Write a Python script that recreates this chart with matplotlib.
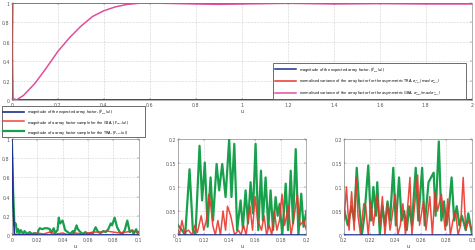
import numpy as np
import matplotlib
matplotlib.use("Agg")
import matplotlib.pyplot as plt
from matplotlib.ticker import FormatStrFormatter

# --- top panel: expected array factor and normalised variances over u in [0, 2]
u_top_blue = [0.0, 0.002, 0.004, 0.01, 2.0]
blue_top = [1.0, 0.5, 0.0, 0.0, 0.0]
u_top_red = [0.0, 0.002, 0.004, 0.01, 2.0]
red_top = [0.0, 0.5, 1.0, 1.0, 1.0]
u_top_mag = [0.0, 0.01, 0.02, 0.05, 0.1, 0.15, 0.2, 0.25, 0.3, 0.35, 0.4, 0.45,
             0.5, 0.55, 0.6, 0.7, 0.8, 0.9, 1.0, 1.2, 1.4, 1.6, 1.8, 2.0]
mag_top = [0.0, 0.01, 0.0, 0.045, 0.17, 0.33, 0.50, 0.64, 0.76, 0.86, 0.92, 0.96,
           0.985, 0.997, 1.0, 0.995, 0.99, 0.986, 0.99, 0.997, 0.99, 0.994, 0.99, 0.99]

# --- bottom left: u in [0, 0.1]
u_l_blue = [0.0, 0.001, 0.002, 0.1]
blue_l = [1.0, 0.3, 0.0, 0.0]
u_l_green = [0.0, 0.001, 0.002, 0.003, 0.004, 0.005, 0.006, 0.007, 0.009, 0.010,
             0.012, 0.014, 0.016, 0.018, 0.020, 0.021, 0.022, 0.024, 0.026, 0.028,
             0.030, 0.031, 0.033, 0.034, 0.036, 0.037, 0.038, 0.040, 0.042, 0.044,
             0.046, 0.048, 0.049, 0.051, 0.052, 0.054, 0.056, 0.058, 0.060, 0.062,
             0.064, 0.066, 0.068, 0.070, 0.072, 0.074, 0.076, 0.078, 0.079, 0.081,
             0.083, 0.085, 0.087, 0.089, 0.091, 0.093, 0.095, 0.096, 0.098, 0.099, 0.1]
green_l = [1.0, 0.45, 0.1, 0.12, 0.03, 0.06, 0.02, 0.05, 0.01, 0.04,
           0.01, 0.03, 0.01, 0.02, 0.0, 0.05, 0.07, 0.06, 0.07, 0.07,
           0.06, 0.02, 0.07, 0.02, 0.05, 0.18, 0.12, 0.15, 0.05, 0.03,
           0.01, 0.04, 0.02, 0.10, 0.06, 0.03, 0.01, 0.03, 0.01, 0.02,
           0.02, 0.08, 0.03, 0.02, 0.04, 0.03, 0.06, 0.12, 0.10, 0.18,
           0.08, 0.03, 0.01, 0.05, 0.15, 0.03, 0.05, 0.01, 0.06, 0.02, 0.03]
u_l_red = [0.0, 0.005, 0.01, 0.015, 0.02, 0.025, 0.03, 0.035, 0.04, 0.045, 0.05,
           0.055, 0.06, 0.065, 0.07, 0.075, 0.08, 0.085, 0.09, 0.095, 0.1]
red_l = [0.0, 0.01, 0.0, 0.01, 0.02, 0.01, 0.03, 0.01, 0.02, 0.0, 0.02,
         0.01, 0.02, 0.03, 0.03, 0.04, 0.03, 0.02, 0.03, 0.04, 0.03]

# --- bottom middle: u in [0.1, 0.2]
u_m_green = [0.100, 0.103, 0.1055, 0.1089, 0.1115, 0.1135, 0.1167, 0.1187, 0.1208, 0.123,
             0.1253, 0.1272, 0.130, 0.132, 0.1344, 0.137, 0.1398, 0.1416, 0.1438, 0.146,
             0.1487, 0.1505, 0.1526, 0.1545, 0.1565, 0.1583, 0.1604, 0.1625, 0.1646, 0.1661,
             0.1682, 0.1703, 0.1721, 0.174, 0.176, 0.1776, 0.1792, 0.1812, 0.1839, 0.1857,
             0.1878, 0.1896, 0.1917, 0.1938, 0.196, 0.1978, 0.2]
green_m = [0.02, 0.01, 0.0, 0.137, 0.01, 0.0, 0.186, 0.072, 0.151, 0.017,
           0.12, 0.03, 0.148, 0.093, 0.148, 0.079, 0.20, 0.079, 0.19, 0.01,
           0.072, 0.014, 0.093, 0.024, 0.11, 0.045, 0.19, 0.01, 0.134, 0.03,
           0.12, 0.014, 0.093, 0.01, 0.079, 0.04, 0.065, 0.0, 0.107, 0.01,
           0.134, 0.024, 0.179, 0.0, 0.086, 0.017, 0.05]
u_m_red = [0.100, 0.101, 0.103, 0.105, 0.108, 0.111, 0.113, 0.115, 0.118, 0.120,
           0.122, 0.124, 0.1255, 0.127, 0.129, 0.131, 0.133, 0.135, 0.137, 0.1385,
           0.141, 0.144, 0.147, 0.149, 0.151, 0.153, 0.156, 0.158, 0.160, 0.162,
           0.165, 0.167, 0.169, 0.171, 0.173, 0.175, 0.177, 0.179, 0.181, 0.183,
           0.186, 0.188, 0.190, 0.193, 0.195, 0.198, 0.2]
red_m = [0.01, 0.0, 0.03, 0.005, 0.01, 0.0, 0.02, 0.005, 0.04, 0.01,
         0.03, 0.085, 0.06, 0.02, 0.0, 0.03, 0.0, 0.05, 0.01, 0.06,
         0.04, 0.0, 0.01, 0.0, 0.02, 0.0, 0.06, 0.01, 0.08, 0.03,
         0.01, 0.04, 0.0, 0.02, 0.0, 0.05, 0.01, 0.03, 0.085, 0.02,
         0.06, 0.0, 0.03, 0.085, 0.02, 0.03, 0.01]

# --- bottom right: u in [0.2, 0.3]
u_r_green = [0.200, 0.203, 0.206, 0.208, 0.210, 0.212, 0.214, 0.216, 0.219, 0.221,
             0.223, 0.225, 0.226, 0.228, 0.230, 0.232, 0.234, 0.236, 0.2385, 0.2405,
             0.243, 0.245, 0.247, 0.249, 0.251, 0.253, 0.256, 0.258, 0.261, 0.263,
             0.266, 0.268, 0.270, 0.2715, 0.274, 0.276, 0.278, 0.280, 0.282, 0.284,
             0.286, 0.288, 0.290, 0.292, 0.295, 0.297, 0.300]
green_r = [0.055, 0.02, 0.06, 0.03, 0.14, 0.06, 0.0, 0.04, 0.145, 0.03,
           0.10, 0.04, 0.11, 0.0, 0.06, 0.02, 0.07, 0.03, 0.14, 0.02,
           0.12, 0.03, 0.05, 0.01, 0.06, 0.02, 0.14, 0.03, 0.14, 0.02,
           0.11, 0.12, 0.13, 0.04, 0.195, 0.03, 0.07, 0.02, 0.06, 0.12,
           0.03, 0.06, 0.02, 0.04, 0.01, 0.045, 0.0]
u_r_red = [0.200, 0.202, 0.204, 0.206, 0.208, 0.2095, 0.211, 0.213, 0.2155, 0.217,
           0.219, 0.221, 0.223, 0.226, 0.228, 0.230, 0.232, 0.234, 0.236, 0.240,
           0.242, 0.244, 0.246, 0.248, 0.2515, 0.253, 0.256, 0.2575, 0.259, 0.262,
           0.264, 0.267, 0.269, 0.271, 0.273, 0.276, 0.279, 0.281, 0.283, 0.285,
           0.287, 0.289, 0.291, 0.293, 0.295, 0.297, 0.300]
red_r = [0.03, 0.10, 0.01, 0.09, 0.01, 0.12, 0.04, 0.0, 0.065, 0.06,
         0.0, 0.07, 0.02, 0.085, 0.02, 0.08, 0.0, 0.065, 0.01, 0.085,
         0.0, 0.02, 0.065, 0.0, 0.12, 0.0, 0.085, 0.125, 0.02, 0.07,
         0.01, 0.08, 0.0, 0.09, 0.05, 0.085, 0.01, 0.075, 0.0, 0.03,
         0.05, 0.0, 0.02, 0.12, 0.01, 0.03, 0.01]

BLUE = "#1c2f8c"
RED = "#e8362a"
MAG = "#df4f9c"
GREEN = "#18a04c"
FS = 3.4
LFS = 2.5

lbl_top = ["magnitude of the expected array factor, $|\\bar{F}_{D1}(u)|$",
           "normalised variance of the array factor for the asymmetric TRA, "
           "$\\sigma^2_{TRA}/\\max(\\sigma^2_{TRA})$",
           "normalised variance of the array factor for the asymmetric GBA, "
           "$\\sigma^2_{GBA}/\\max(\\sigma^2_{TRA})$"]
lbl_bot = ["magnitude of the expected array factor, $|\\bar{F}_{D1}(u)|$",
           "magnitude of a array factor sample for the GBA, $|F_{GBA}(u)|$",
           "magnitude of a array factor sample for the TRA, $|F_{TRA}(u)|$"]


def style(ax, xt, yt, xlim, ylim):
    ax.set_xlim(xlim)
    ax.set_ylim(ylim)
    ax.set_xticks(xt)
    ax.set_yticks(yt)
    ax.xaxis.set_major_formatter(FormatStrFormatter("%g"))
    ax.yaxis.set_major_formatter(FormatStrFormatter("%g"))
    ax.tick_params(direction="in", length=1.5, width=0.3, labelsize=FS, pad=1.5,
                   colors="#555555", top=True, right=True)
    ax.grid(True, linestyle=":", linewidth=0.4, color="#aaaaaa")
    for s in ax.spines.values():
        s.set_linewidth(0.4)
        s.set_color("#777777")
    ax.set_xlabel("u", fontsize=FS, labelpad=1, color="#333333")


def frame(lg):
    lg.get_frame().set_edgecolor("#555555")
    lg.get_frame().set_linewidth(0.6)


fig = plt.figure(figsize=(4.75, 2.51), dpi=100)

ax = fig.add_axes([0.025, 0.598, 0.968, 0.386])
h1, = ax.plot(u_top_blue, blue_top, color=BLUE, lw=1.1)
h2, = ax.plot(u_top_red, red_top, color=RED, lw=1.1)
h3, = ax.plot(u_top_mag, mag_top, color=MAG, lw=1.1)
style(ax, np.arange(0, 2.01, 0.2), np.arange(0, 1.01, 0.2), (0, 2), (0, 1))
leg = ax.legend([h1, h2, h3], lbl_top, fontsize=LFS, loc="upper left",
                bbox_to_anchor=(0.571, 0.753, 0.414, 0.0),
                bbox_transform=fig.transFigure, mode="expand", fancybox=False,
                framealpha=1, handlelength=6, handletextpad=1.0, borderpad=0.6,
                labelspacing=0.95)
frame(leg)

panels = [
    ([0.025, 0.06, 0.267, 0.382], u_l_blue, blue_l, u_l_red, red_l, u_l_green, green_l,
     np.arange(0, 0.101, 0.02), np.arange(0, 1.01, 0.2), (0, 0.1), (0, 1)),
    ([0.375, 0.06, 0.27, 0.382], [0.1, 0.2], [0, 0], u_m_red, red_m, u_m_green, green_m,
     np.arange(0.1, 0.201, 0.02), np.arange(0, 0.201, 0.05), (0.1, 0.2), (0, 0.2)),
    ([0.724, 0.06, 0.27, 0.382], [0.2, 0.3], [0, 0], u_r_red, red_r, u_r_green, green_r,
     np.arange(0.2, 0.301, 0.02), np.arange(0, 0.201, 0.05), (0.2, 0.3), (0, 0.2)),
]
handles = None
for rect, ub, yb, ur, yr, ug, yg, xt, yt, xl, yl in panels:
    a = fig.add_axes(rect)
    hb, = a.plot(ub, yb, color=BLUE, lw=1.2, zorder=3)
    hg, = a.plot(ug, yg, color=GREEN, lw=1.6)
    hr, = a.plot(ur, yr, color=RED, lw=1.1, alpha=0.9)
    style(a, xt, yt, xl, yl)
    if handles is None:
        handles = [hb, hr, hg]

leg2 = fig.legend(handles, lbl_bot, fontsize=LFS, loc="upper left",
                  bbox_to_anchor=(0.0, 0.582, 0.309, 0.0), mode="expand",
                  fancybox=False, framealpha=1, handlelength=6, handletextpad=1.0,
                  borderpad=0.4, labelspacing=0.55)
frame(leg2)

fig.savefig("out.png", dpi=100)
